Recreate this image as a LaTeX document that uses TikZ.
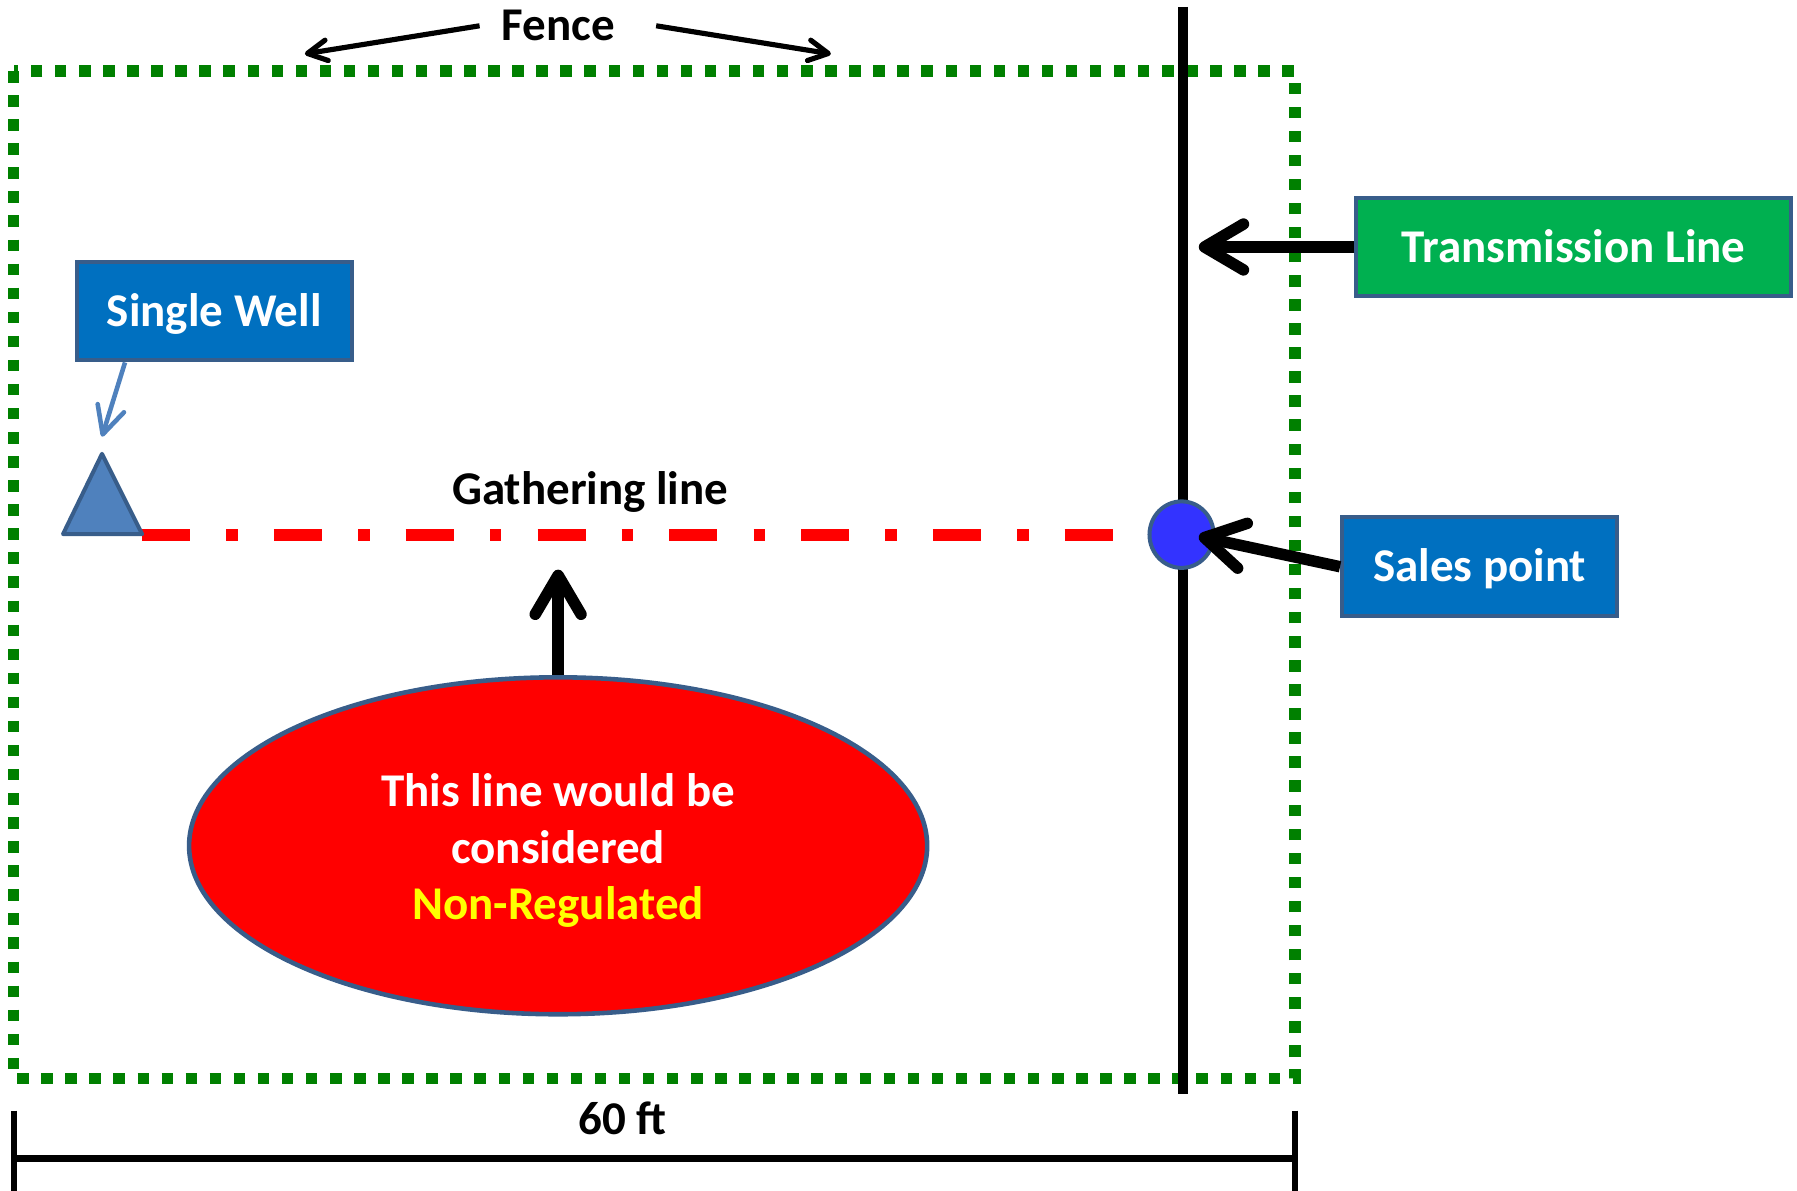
\documentclass[tikz,border=0pt]{standalone}
\usepackage{fontspec}
\setmainfont{Carlito}
\usetikzlibrary{arrows.meta,shapes.geometric,calc}
\definecolor{fenceg}{HTML}{008000}
\definecolor{boxblue}{HTML}{0070C0}
\definecolor{edgeblue}{HTML}{385D8A}
\definecolor{tgreen}{HTML}{00B050}
\definecolor{wellblue}{HTML}{4F81BD}
\definecolor{salesblue}{HTML}{3333FF}
\definecolor{nrred}{HTML}{FF0000}
\definecolor{nryellow}{HTML}{FFFF00}
\tikzset{
  x=1pt, y=-1pt,
  lbl/.style={font=\fontsize{41}{49.5}\selectfont\bfseries, text height=26.5pt, text depth=0pt, inner sep=0pt},
  tagbox/.style={lbl, draw=edgeblue, line width=3.5pt, text=white, minimum height=86pt},
  bigarrow/.style={line width=10pt, -{Straight Barb[length=34pt,width=40pt,round]}},
  thinarrow/.style={line width=4.5pt, -{Straight Barb[length=17pt,width=18pt,round]}},
  fenceline/.style={draw=fenceg, line width=10pt, dash pattern=on 10pt off 11pt},
}
\begin{document}
\begin{tikzpicture}
\useasboundingbox (0,0) rectangle (1568,1039);

% fence
\coordinate (fTL) at (12,62);
\coordinate (fBR) at (1130,941);
\draw[fenceline] (fTL) rectangle (fBR);
\node[lbl, inner xsep=19pt] (fence) at (487,22.5) {Fence};
\coordinate (fenceL) at (266,47);
\coordinate (fenceR) at (725,47);
\draw[thinarrow] (fence.west) -- (fenceL);
\draw[thinarrow] ([xshift=17pt]fence.east) -- (fenceR);

% transmission line
\coordinate (tTop) at (1032,6);
\coordinate (tBot) at (1032,955);
\draw[line width=9pt] (tTop) -- (tBot);

% gathering line
\coordinate (gS) at (124,467);
\coordinate (gE) at (972,467);
\draw[draw=nrred, line width=10pt, dash pattern=on 42pt off 31.5pt on 10pt off 31.5pt] (gS) -- (gE);
\node[lbl, text=black] (gather) at (515,427) {Gathering line};

% well triangle
\coordinate (wA) at (89,396);
\coordinate (wL) at (55,466);
\coordinate (wR) at (124,466);
\draw[draw=edgeblue, fill=wellblue, line width=3.5pt, line join=round] (wA) -- (wL) -- (wR) -- cycle;

% single well box
\node[tagbox, fill=boxblue, minimum width=240pt] (wbox) at (187,271.5) {Single Well};
\coordinate (wTip) at (89,381);
\draw[draw=wellblue, line width=4pt, -{Straight Barb[length=24pt,width=24pt,round]}]
  ($(wbox.south west)!0.18!(wbox.south east)$) -- (wTip);

% transmission box
\node[tagbox, fill=tgreen, minimum width=379pt] (tbox) at (1373,215.5) {Transmission Line};
\coordinate (tTip) at (1046,215.5);
\draw[bigarrow] (tbox.west) -- (tTip);

% sales point
\node[ellipse, draw=edgeblue, fill=salesblue, line width=3.5pt, minimum width=56pt, minimum height=58pt, inner sep=0pt] (sales) at (1031,466.5) {};
\node[tagbox, fill=boxblue, minimum width=240pt] (sbox) at (1291,494.5) {Sales point};
\coordinate (sTip) at (1046,468);
\draw[bigarrow] (sbox.west) -- (sTip);

% ellipse
\node[ellipse, draw=edgeblue, fill=nrred, line width=4pt, minimum width=644pt, minimum height=294pt, inner sep=0pt,
      font=\fontsize{41}{49.5}\selectfont\bfseries, text=white, align=center] (nr) at (487,738)
  {\rule{0pt}{37pt}This line would be\\considered\\\textcolor{nryellow}{Non-Regulated}};
\coordinate (upTip) at (487,497);
\draw[bigarrow] (nr.north) -- (upTip);

% dimension
\coordinate (dL) at (12,1011);
\coordinate (dR) at (1130,1011);
\coordinate (dLt) at (12,969);
\coordinate (dLb) at (12,1039);
\coordinate (dRt) at (1130,969);
\coordinate (dRb) at (1130,1039);
\draw[line width=6.5pt] (dL) -- (dR);
\draw[line width=5pt] (dLt) -- (dLb);
\draw[line width=5pt] (dRt) -- (dRb);
\node[lbl] (dim) at (543,977) {60 ft};
\end{tikzpicture}
\end{document}
